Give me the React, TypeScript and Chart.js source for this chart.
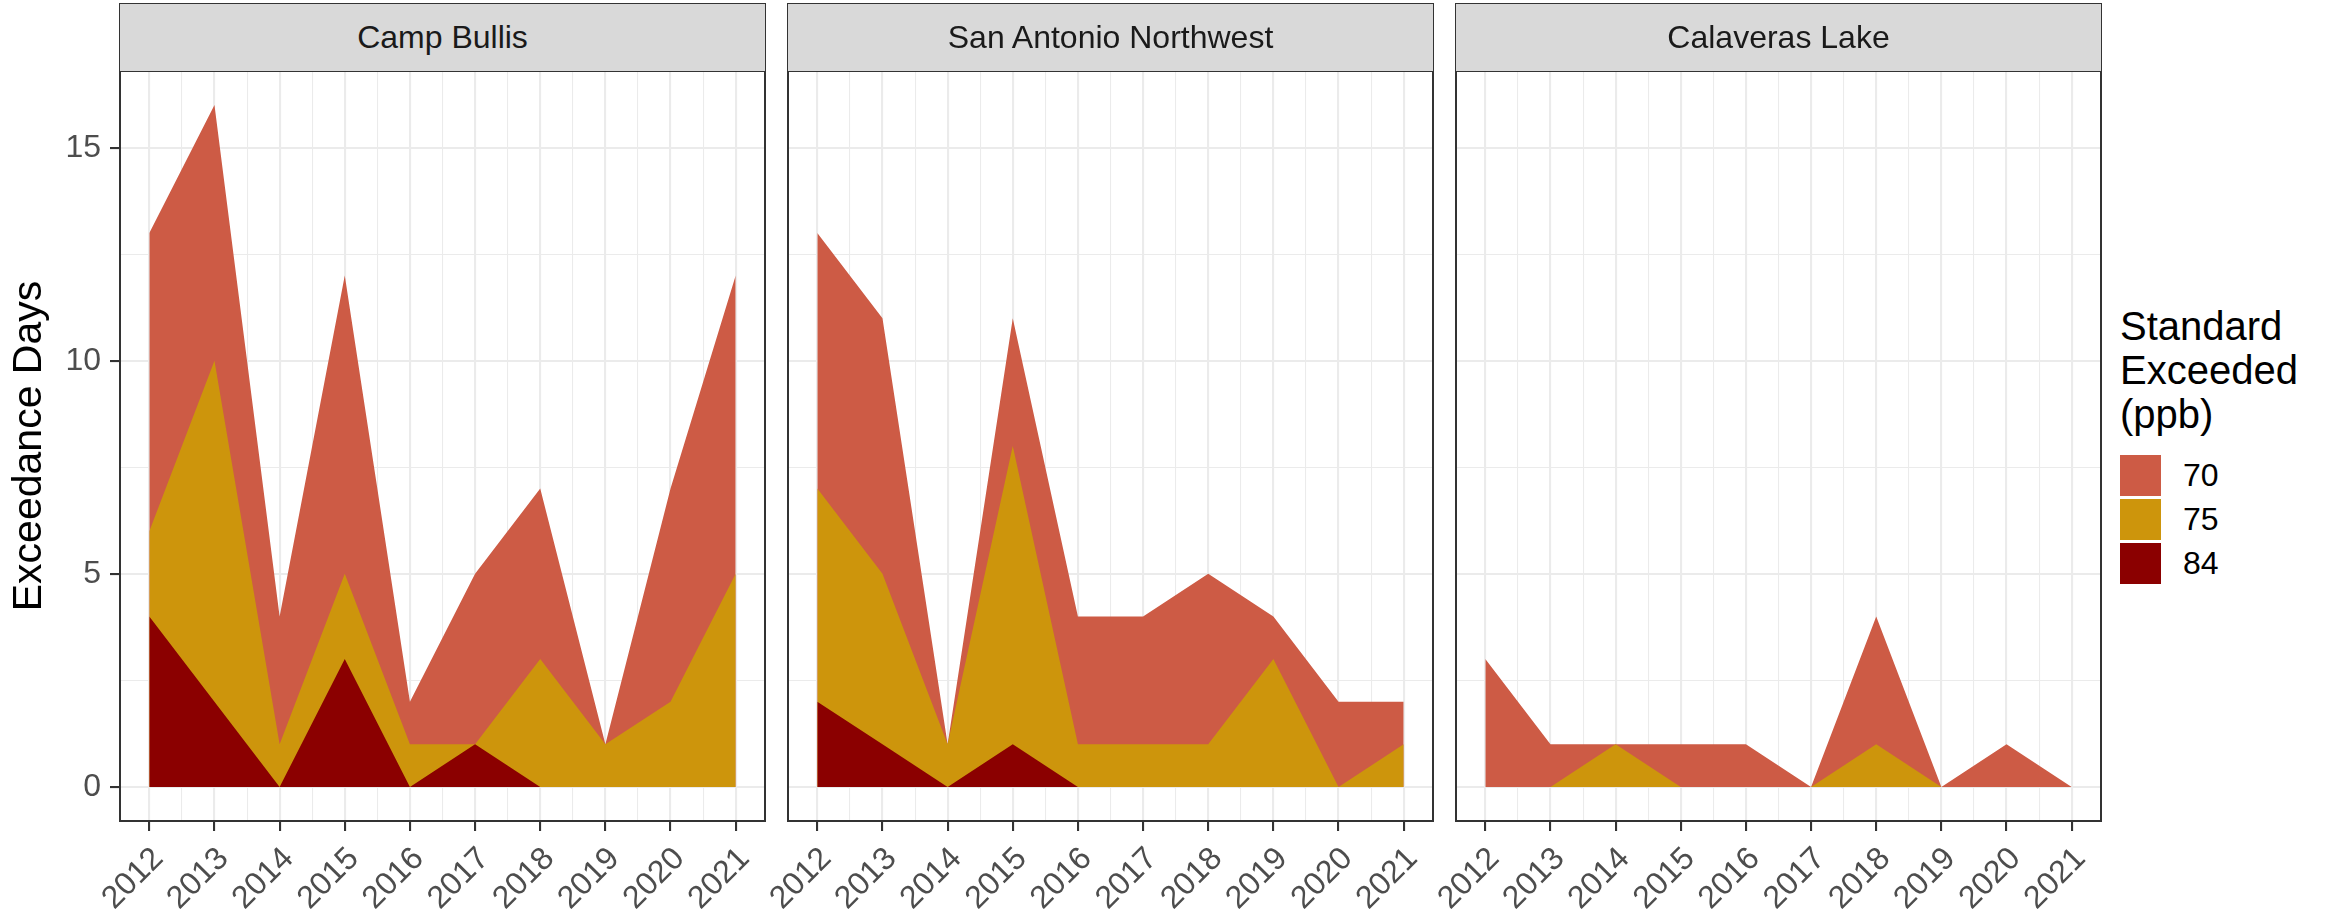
import React, { useEffect, useRef } from "react";
import { Chart, registerables } from "chart.js";

Chart.register(...registerables);

// ---------------- data ----------------
const years = [2012, 2013, 2014, 2015, 2016, 2017, 2018, 2019, 2020, 2021];
const siteNames = ["Camp Bullis", "San Antonio Northwest", "Calaveras Lake"];
const standards = ["70", "75", "84"];
const standardColors = ["#CD5B45", "#CD950C", "#8B0000"];

const campBullis70 = [13, 16, 4, 12, 2, 5, 7, 1, 7, 12];
const campBullis75 = [6, 10, 1, 5, 1, 1, 3, 1, 2, 5];
const campBullis84 = [4, 2, 0, 3, 0, 1, 0, 0, 0, 0];

const saNorthwest70 = [13, 11, 1, 11, 4, 4, 5, 4, 2, 2];
const saNorthwest75 = [7, 5, 1, 8, 1, 1, 1, 3, 0, 1];
const saNorthwest84 = [2, 1, 0, 1, 0, 0, 0, 0, 0, 0];

const calaveras70 = [3, 1, 1, 1, 1, 0, 4, 0, 1, 0];
const calaveras75 = [0, 0, 1, 0, 0, 0, 1, 0, 0, 0];
const calaveras84 = [0, 0, 0, 0, 0, 0, 0, 0, 0, 0];

const siteSeries = [
  [campBullis70, campBullis75, campBullis84],
  [saNorthwest70, saNorthwest75, saNorthwest84],
  [calaveras70, calaveras75, calaveras84],
];

const yTickValues = [0, 5, 10, 15];
const yMin = -0.8;
const yMax = 16.8;
const yTitle = "Exceedance Days";
const legendTitle = ["Standard", "Exceeded", "(ppb)"];

// ---------------- layout ----------------
const FONT = 'Arial, "Liberation Sans", sans-serif';
const W = 2328;
const H = 913;
const Y_AXIS_W = 120;
const PANEL_W = 645;
const GAP = 23;
const PANEL_TOP = 71;
const PANEL_BOTTOM = 821;
const STRIP_TOP = 3;
const RIGHT_PAD = 10;
const panelLeft = (i: number) => Y_AXIS_W + i * (PANEL_W + GAP);

const panelBorder = {
  id: "panelBorder",
  afterDraw(chart: any) {
    const { ctx, chartArea: a } = chart;
    ctx.save();
    ctx.strokeStyle = "#333333";
    ctx.lineWidth = 2;
    ctx.strokeRect(a.left, a.top, a.right - a.left, a.bottom - a.top);
    ctx.restore();
  },
};

function buildXTicks() {
  const t: { value: number }[] = [];
  years.forEach((y, i) => {
    t.push({ value: y });
    if (i < years.length - 1) t.push({ value: y + 0.5 });
  });
  return t;
}

function buildYTicks() {
  const t: { value: number }[] = [];
  yTickValues.forEach((v, i) => {
    t.push({ value: v });
    if (i < yTickValues.length - 1) t.push({ value: (v + yTickValues[i + 1]) / 2 });
  });
  return t;
}

function Panel({ index }: { index: number }) {
  const ref = useRef<HTMLCanvasElement | null>(null);
  useEffect(() => {
    if (!ref.current) return;
    const series = siteSeries[index];
    // draw order: first dataset drawn on top
    const order = [2, 1, 0];
    const datasets = order.map((k) => ({
      label: standards[k],
      data: years.map((yr, i) => ({ x: yr, y: series[k][i] })),
      backgroundColor: standardColors[k],
      borderColor: "rgba(0,0,0,0)",
      borderWidth: 0,
      fill: "origin",
      pointRadius: 0,
      tension: 0,
    }));
    const first = index === 0;
    const chart = new Chart(ref.current, {
      type: "line",
      data: { datasets },
      plugins: [panelBorder],
      options: {
        animation: false,
        responsive: false,
        maintainAspectRatio: false,
        events: [],
        layout: { padding: { left: 0, top: PANEL_TOP, right: RIGHT_PAD, bottom: 0 } },
        plugins: { legend: { display: false }, tooltip: { enabled: false } },
        scales: {
          x: {
            type: "linear",
            min: years[0] - 0.45,
            max: years[years.length - 1] + 0.45,
            afterBuildTicks: (s: any) => {
              s.ticks = buildXTicks();
            },
            afterFit: (s: any) => {
              s.height = H - PANEL_BOTTOM;
              s.paddingLeft = 0;
              s.paddingRight = 0;
            },
            border: { display: false },
            grid: {
              color: "#EBEBEB",
              lineWidth: (c: any) => (Number.isInteger(c.tick?.value) ? 2.1 : 1.05),
              drawTicks: true,
              tickLength: 10,
              tickWidth: 2.1,
              tickColor: (c: any) => (Number.isInteger(c.tick?.value) ? "#333333" : "rgba(0,0,0,0)"),
            },
            ticks: {
              autoSkip: false,
              minRotation: 45,
              maxRotation: 45,
              padding: 9,
              labelOffset: 9,
              color: "#4D4D4D",
              font: { size: 32, family: FONT },
              callback: (v: any) => (Number.isInteger(v) ? String(v) : ""),
            },
          },
          y: {
            type: "linear",
            min: yMin,
            max: yMax,
            afterBuildTicks: (s: any) => {
              s.ticks = buildYTicks();
            },
            afterFit: (s: any) => {
              s.width = Y_AXIS_W;
              s.paddingTop = 0;
              s.paddingBottom = 0;
            },
            border: { display: false },
            title: {
              display: first,
              text: yTitle,
              color: "#000000",
              font: { size: 41, family: FONT },
              padding: { top: 5, bottom: 0 },
            },
            grid: {
              color: "#EBEBEB",
              lineWidth: (c: any) => (c.tick && c.tick.value % 5 === 0 ? 2.1 : 1.05),
              drawTicks: true,
              tickLength: 10,
              tickWidth: 2.1,
              tickColor: (c: any) =>
                first && c.tick && c.tick.value % 5 === 0 ? "#333333" : "rgba(0,0,0,0)",
            },
            ticks: {
              display: first,
              padding: 9,
              color: "#4D4D4D",
              font: { size: 32, family: FONT },
              callback: (v: any) => (v % 5 === 0 ? String(v) : ""),
            },
          },
        },
      } as any,
    });
    return () => chart.destroy();
  }, [index]);

  const cw = Y_AXIS_W + PANEL_W + RIGHT_PAD;
  return (
    <canvas
      ref={ref}
      width={cw}
      height={H}
      style={{
        position: "absolute",
        left: panelLeft(index) - Y_AXIS_W,
        top: 0,
        width: cw,
        height: H,
      }}
    />
  );
}

export default function App() {
  return (
    <div
      style={{
        position: "absolute",
        left: 0,
        top: 0,
        width: W,
        height: H,
        background: "#FFFFFF",
        overflow: "hidden",
        fontFamily: FONT,
      }}
    >
      {siteNames.map((_, i) => (
        <Panel key={"p" + i} index={i} />
      ))}
      {siteNames.map((name, i) => (
        <div
          key={"s" + i}
          style={{
            position: "absolute",
            left: panelLeft(i) - 1,
            top: STRIP_TOP,
            width: PANEL_W + 2,
            height: PANEL_TOP - STRIP_TOP + 1,
            boxSizing: "border-box",
            border: "1.5px solid #333333",
            background: "#D9D9D9",
            display: "flex",
            alignItems: "center",
            justifyContent: "center",
            fontSize: 32,
            color: "#1A1A1A",
          }}
        >
          {name}
        </div>
      ))}
      <div
        style={{
          position: "absolute",
          left: 2120,
          top: 304,
          fontSize: 40,
          lineHeight: "44px",
          color: "#000000",
          whiteSpace: "nowrap",
        }}
      >
        {legendTitle.map((t, i) => (
          <div key={i}>{t}</div>
        ))}
      </div>
      {standards.map((s, k) => (
        <React.Fragment key={"l" + k}>
          <div
            style={{
              position: "absolute",
              left: 2120,
              top: 455 + k * 44,
              width: 41,
              height: 41,
              background: standardColors[k],
            }}
          />
          <div
            style={{
              position: "absolute",
              left: 2183,
              top: 455 + k * 44,
              height: 41,
              lineHeight: "41px",
              fontSize: 32,
              color: "#000000",
            }}
          >
            {s}
          </div>
        </React.Fragment>
      ))}
    </div>
  );
}
